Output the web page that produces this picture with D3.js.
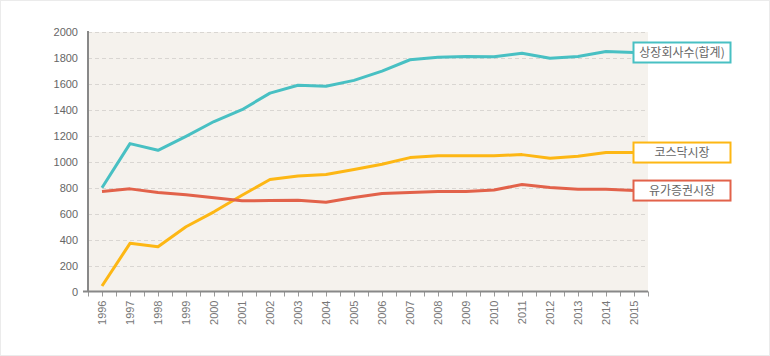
<!DOCTYPE html>
<html><head><meta charset="utf-8">
<script src="https://cdn.jsdelivr.net/npm/d3@7"></script>
<style>body{margin:0;background:#fff}svg{display:block}</style>
</head><body><svg id="c" width="770" height="356"></svg>
<script>
const years = ["1996","1997","1998","1999","2000","2001","2002","2003","2004","2005","2006","2007","2008","2009","2010","2011","2012","2013","2014","2015"];
const totalListed = [800,1140,1088,1196,1310,1401,1529,1590,1582,1627,1699,1786,1806,1811,1809,1837,1798,1811,1850,1842];
const kosdaq = [42,371,345,499,614,742,863,891,901,940,981,1032,1047,1047,1047,1055,1027,1042,1071,1071];
const kospi = [771,791,763,745,722,699,701,704,688,724,755,763,771,771,783,824,802,788,788,778];
const yTicks = [0,200,400,600,800,1000,1200,1400,1600,1800,2000];
const seriesNames = ["상장회사수(합계)","코스닥시장","유가증권시장"];
const colors = ["#48c0c3","#fdb714","#e2624a"];

const svg = d3.select("#c");
const L=88, R=648, T=32, B=291.5;
svg.append("rect").attr("x",0.5).attr("y",0.5).attr("width",769).attr("height",355)
  .attr("fill","#fff").attr("stroke","#ebebeb");
const x = d3.scaleBand().domain(years).range([L,R]);
const y = d3.scaleLinear().domain([0,2000]).range([B,T]);

svg.append("rect").attr("x",L).attr("y",T).attr("width",R-L).attr("height",B-T).attr("fill","#f5f2ed");

svg.append("g").selectAll("line").data(yTicks.filter(d=>d>0)).join("line")
  .attr("x1",L).attr("x2",R-3).attr("y1",d=>Math.round(y(d))+0.5).attr("y2",d=>Math.round(y(d))+0.5)
  .attr("stroke","#d9d6d2").attr("stroke-dasharray","4,3");

// y axis
const yAxis = d3.axisLeft(y).tickValues(yTicks).tickFormat(d3.format("d")).tickSize(0).tickPadding(10);
const gy = svg.append("g").attr("transform",`translate(${L},0)`).call(yAxis);
gy.select(".domain").remove();
gy.selectAll("text").attr("font-family","'Liberation Sans',Arial,sans-serif").attr("font-size","11px").attr("fill","#666");
svg.append("line").attr("x1",L).attr("x2",L).attr("y1",T-1).attr("y2",B).attr("stroke","#888").attr("stroke-width",2);

// x axis
const tickPos = [];
years.forEach(d=>{tickPos.push(x(d)); tickPos.push(x(d)+x.bandwidth()/2);});
tickPos.push(R);
svg.append("g").selectAll("line").data(tickPos).join("line")
  .attr("x1",d=>Math.round(d)+0.5).attr("x2",d=>Math.round(d)+0.5).attr("y1",B).attr("y2",B+5)
  .attr("stroke","#999").attr("stroke-width",1);
svg.append("line").attr("x1",L-5).attr("x2",R).attr("y1",B).attr("y2",B).attr("stroke","#888").attr("stroke-width",2);
svg.append("g").selectAll("text").data(years).join("text")
  .attr("transform",d=>`translate(${x(d)+x.bandwidth()/2+4},${B+9}) rotate(-90)`)
  .attr("text-anchor","end").attr("font-family","'Liberation Sans',Arial,sans-serif")
  .attr("font-size","11px").attr("fill","#777").text(d=>d);

const series = [totalListed,kosdaq,kospi];
const line = d3.line().x((d,i)=>x(years[i])+x.bandwidth()/2).y(d=>y(d));
[1,2,0].forEach(k=>{
  svg.append("path").datum(series[k]).attr("d",line).attr("fill","none")
    .attr("stroke",colors[k]).attr("stroke-width",3).attr("stroke-linejoin","round");
});

series.forEach((s,k)=>{
  const lx = x(years[years.length-1])+x.bandwidth()/2 - 0.5;
  const ly = y(s[s.length-1]);
  const g = svg.append("g").attr("transform",`translate(${lx},${ly})`);
  g.append("rect").attr("x",0).attr("y",-10).attr("width",97).attr("height",20)
    .attr("fill","#fff").attr("stroke",colors[k]).attr("stroke-width",2);
  g.append("text").attr("x",48.5).attr("y",4.5).attr("text-anchor","middle")
    .attr("font-family","'Noto Sans CJK KR',sans-serif").attr("font-size","12px").attr("fill","#666")
    .text(seriesNames[k]);
});
</script></body></html>
